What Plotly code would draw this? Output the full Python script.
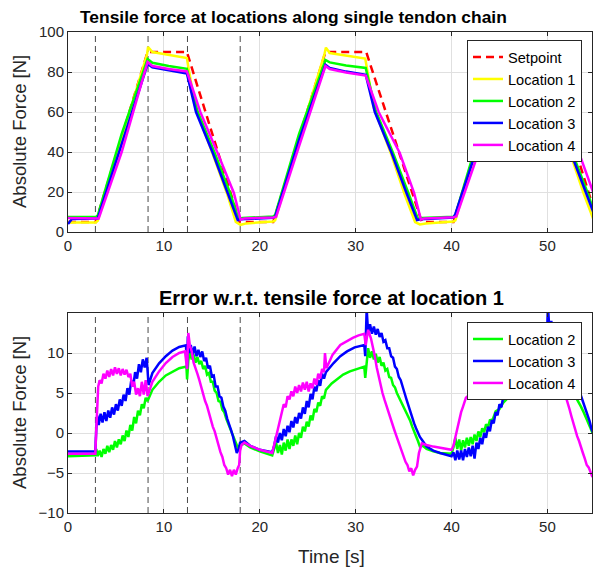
import plotly.graph_objects as go

FONT = "Liberation Sans, Arial, Helvetica, sans-serif"
AX = "#262626"
GRID = "#e0e0e0"

# ---------------- data ----------------
event_times = [2.86, 8.35, 12.46, 17.96]

setpoint_t = [0, 2.9, 8.3, 12.4, 17.9, 21.4, 26.85, 31.1, 36.9, 40.2, 45.6, 49.75, 55.25]
setpoint_f = [5, 5, 90, 90, 5, 5, 90, 90, 5, 5, 90, 90, 5]

loc1_pts = [(0, 4.8), (2.9, 4.8), (3.1, 5.6), (5.6, 47), (8.25, 89), (8.35, 92.5), (8.8, 90), (10.5, 88.6),
            (12.4, 87), (12.5, 84), (13.3, 62), (15.1, 39), (16.6, 19), (17.5, 5), (18.0, 3.6), (18.6, 4.3),
            (21.4, 5.3), (21.6, 5.8), (24.1, 47), (26.75, 89), (26.9, 92.2), (27.3, 89.5), (29.0, 88.2),
            (31.0, 86.7), (31.1, 84), (31.9, 62), (33.7, 39), (35.1, 19), (36.2, 5), (36.7, 3.8), (37.3, 4.3),
            (40.2, 5.2), (40.4, 5.8), (42.9, 47), (45.55, 89), (45.7, 92.2), (46.1, 89.5), (47.8, 88.2),
            (49.7, 86.7), (49.8, 84), (50.6, 62), (52.4, 39), (53.8, 19), (54.9, 5)]

loc2_pts = [(0, 7.5), (2.9, 7.5), (3.1, 8.2), (5.6, 49), (8.3, 86.5), (8.8, 84.6), (10.5, 83), (12.4, 81.6),
            (13.5, 60.5), (15.3, 39.5), (16.9, 19.5), (17.8, 6.5), (18.2, 7.0), (21.4, 7.8),
            (21.6, 8.5), (24.1, 49), (26.85, 86), (27.3, 84.8), (29.0, 83.2), (31.05, 82), (32.1, 60.5),
            (33.9, 39.5), (35.5, 19.5), (36.5, 6.5), (36.9, 7.0), (40.2, 7.6),
            (40.4, 8.4), (42.9, 49), (45.6, 86), (46.1, 84.8), (47.8, 83.2), (49.75, 82), (50.8, 60.5),
            (52.6, 39.5), (54.2, 19.5), (55.1, 6.5)]

loc3_pts = [(0, 4.0), (0.4, 6.5), (2.9, 6.8), (3.1, 6.8), (5.6, 44), (8.3, 84), (8.8, 82.3), (10.5, 80.8),
            (12.4, 79.3), (13.35, 60), (15.1, 39.5), (16.65, 19.5), (17.7, 6), (18.1, 6.4), (21.4, 7.1),
            (21.6, 7.6), (24.1, 46), (26.85, 83.6), (27.3, 82), (29.0, 80.2), (31.05, 78.6), (32.0, 60),
            (33.75, 39.5), (35.3, 19.5), (36.4, 6), (36.8, 6.4), (40.2, 7.2),
            (40.4, 9), (42.6, 40.5), (45.6, 84.5), (46.1, 82.5), (47.8, 80.5), (49.75, 78.8), (50.7, 60),
            (52.45, 39.5), (54.0, 19.5), (55.1, 6)]

loc4_pts = [(0, 7.0), (2.9, 7.0), (3.2, 6.8), (5.6, 40), (8.3, 85), (8.8, 83), (10.5, 81.5), (12.4, 80.3),
            (13.8, 60), (15.6, 39.5), (17.3, 19.5), (18.0, 6.2), (18.4, 6.8), (21.4, 7.3),
            (21.7, 7.6), (24.1, 43), (26.85, 83), (27.3, 81.5), (29.0, 79.8), (31.05, 78.2), (32.4, 60),
            (34.6, 39.5), (36.1, 19.5), (36.8, 6.3), (37.2, 6.8), (40.2, 7.4),
            (40.5, 7.8), (42.9, 41), (45.6, 82.5), (46.1, 81), (47.8, 79.5), (49.75, 78), (51.1, 60),
            (53.3, 39.5), (54.8, 19.5)]

err2_pts = [(0.0, -2.9), (2.85, -2.8), (2.95, -2.0), (3.1, -2.9), (3.3, -2.2), (3.5, -3.0), (3.7, -2.0), (3.9, -2.6),
            (4.1, -1.6), (4.3, -2.4), (4.5, -1.5), (4.7, -2.1), (4.9, -1.0), (5.1, -1.8), (5.3, -0.8), (5.5, -1.4),
            (5.7, -0.3), (5.9, -1.0), (6.1, 0.3), (6.3, -0.5), (6.5, 1.0), (6.7, 0.3), (6.9, 2.0), (7.1, 1.2),
            (7.3, 2.8), (7.5, 2.2), (7.7, 3.6), (7.9, 3.1), (8.1, 4.4), (8.3, 4.0),
            (8.8, 5.4), (9.5, 6.4), (10.2, 7.2), (10.9, 7.7), (11.6, 8.1), (12.35, 8.3), (12.42, 6.7),
            (12.55, 9.0), (12.7, 10.4), (12.9, 9.2), (13.1, 9.8), (13.3, 8.8), (13.5, 9.5), (13.7, 8.6),
            (13.9, 9.0), (14.1, 8.0), (14.3, 8.4), (14.5, 7.3), (14.7, 7.5), (14.9, 6.4), (15.1, 6.4),
            (15.3, 5.3), (15.5, 5.0), (15.7, 4.0), (15.9, 3.9), (16.1, 2.9), (16.3, 2.6), (16.5, 1.8),
            (16.7, 1.2), (16.9, 0.5), (17.1, -0.1), (17.3, -0.7), (17.5, -1.2), (17.7, -1.8), (17.9, -1.6),
            (18.4, -1.3), (19.0, -1.8), (20.0, -2.3), (21.3, -2.8),
            (21.5, -2.0), (21.7, -1.2), (21.9, -2.5), (22.1, -1.5), (22.3, -2.7), (22.5, -1.2), (22.7, -2.2),
            (22.9, -0.8), (23.1, -2.0), (23.3, -0.8), (23.5, -1.6), (23.7, -0.3), (23.9, -1.4), (24.1, 0.0),
            (24.3, -0.6), (24.5, 0.8), (24.7, 0.2), (24.9, 1.4), (25.1, 0.8), (25.3, 2.2), (25.5, 1.6),
            (25.7, 3.0), (25.9, 2.6), (26.1, 3.8), (26.3, 3.4), (26.5, 4.6), (26.7, 4.3), (26.9, 5.4),
            (27.5, 6.2), (28.0, 6.7), (28.7, 7.3), (29.4, 7.7), (30.1, 8.0), (30.9, 8.3), (31.0, 6.9),
            (31.15, 9.2), (31.3, 10.6), (31.5, 9.4), (31.7, 10.2), (31.9, 9.2), (32.1, 9.9), (32.3, 8.8),
            (32.5, 9.5), (32.7, 8.4), (32.9, 8.8), (33.1, 7.8), (33.3, 8.0), (33.5, 7.0), (33.7, 6.9),
            (33.9, 6.0), (34.1, 5.7), (34.3, 5.0), (34.5, 4.5), (34.7, 4.0), (34.9, 3.6), (35.1, 3.1),
            (35.3, 2.7), (35.5, 2.0), (35.7, 1.5), (35.9, 0.8), (36.1, 0.3), (36.3, -0.4), (36.5, -1.0),
            (36.7, -1.7), (37.0, -1.6), (37.4, -2.0), (38.1, -2.3), (38.8, -2.5), (40.0, -2.6),
            (40.2, -1.8), (40.4, -0.6), (40.6, -2.0), (40.8, -0.8), (41.0, -2.2), (41.2, -0.9), (41.4, -1.8),
            (41.6, -0.6), (41.8, -1.6), (42.0, -0.5), (42.2, -1.4), (42.4, -0.2), (42.6, -1.0), (42.8, 0.2),
            (43.0, -0.5), (43.2, 0.6), (43.4, 0.1), (43.6, 1.1), (43.8, 0.7), (44.0, 1.6), (44.3, 1.7),
            (44.6, 2.7), (45.0, 3.0), (45.4, 3.8), (45.8, 4.3), (46.4, 5.3), (47.2, 6.2), (48.0, 7.2),
            (49.0, 7.9), (49.8, 8.2), (49.9, 7.0), (50.15, 9.3), (50.3, 10.5), (50.5, 9.4), (50.7, 10.0),
            (50.9, 9.0), (51.1, 9.5), (51.3, 8.4), (51.5, 8.6), (51.7, 7.6), (51.9, 7.4), (52.1, 6.5),
            (52.3, 6.3), (52.5, 5.5), (52.7, 5.2), (52.9, 4.6), (53.1, 4.2), (53.3, 3.7), (53.5, 3.3),
            (53.7, 2.8), (53.9, 2.3), (54.1, 1.8), (54.3, 1.2), (54.5, 0.6), (54.7, 0.0)]

err3_pts = [(0, -2.3), (2.85, -2.3), (2.95, 0.5), (3.05, 2.2), (3.2, 1.0), (3.4, 2.4), (3.6, 1.3), (3.8, 2.6),
            (4.0, 1.5), (4.2, 2.8), (4.4, 1.9), (4.6, 3.2), (4.8, 2.3), (5.0, 3.6), (5.2, 2.8), (5.4, 4.2),
            (5.6, 3.4), (5.8, 4.8), (6.0, 4.0), (6.2, 5.6), (6.4, 4.8), (6.6, 6.6), (6.8, 5.8), (7.0, 7.6),
            (7.2, 6.8), (7.4, 8.6), (7.6, 7.6), (7.8, 9.2), (8.0, 8.2), (8.2, 9.4), (8.3, 7.8), (8.4, 6.0),
            (8.8, 7.5), (9.5, 8.7), (10.2, 9.6), (10.9, 10.3), (11.6, 10.75), (12.3, 10.95), (12.42, 8.2),
            (12.5, 12.1), (12.65, 10.0), (12.8, 11.0), (13.0, 9.8), (13.2, 10.8), (13.4, 9.6), (13.6, 10.4),
            (13.8, 9.5), (14.0, 10.2), (14.2, 9.0), (14.4, 9.4), (14.6, 8.1), (14.8, 8.4), (15.0, 7.1),
            (15.2, 7.2), (15.4, 5.8), (15.6, 5.8), (15.8, 4.6), (16.0, 4.4), (16.2, 3.3), (16.4, 2.8),
            (16.6, 1.8), (16.8, 1.2), (17.0, 0.4), (17.2, -0.4), (17.4, -1.4), (17.6, -2.5), (17.8, -2.0),
            (17.95, -1.2), (18.4, -1.0), (19.0, -1.6), (20.0, -2.1), (21.3, -2.4),
            (21.5, -1.6), (21.7, -0.4), (21.9, -1.2), (22.1, 0.0), (22.3, -0.9), (22.5, 0.5), (22.7, -0.4),
            (22.9, 0.9), (23.1, 0.1), (23.3, 1.5), (23.5, 0.7), (23.7, 2.0), (23.9, 1.2), (24.1, 2.5),
            (24.3, 1.8), (24.5, 3.2), (24.7, 2.4), (24.9, 4.0), (25.1, 3.2), (25.3, 4.9), (25.5, 4.2),
            (25.7, 5.8), (25.9, 5.2), (26.1, 6.6), (26.3, 5.9), (26.5, 7.4), (26.7, 6.8), (26.9, 7.6),
            (27.7, 8.75), (28.4, 9.6), (29.1, 10.2), (29.9, 10.7), (30.9, 11.0), (31.0, 9.6), (31.15, 15.5),
            (31.3, 12.5), (31.5, 13.6), (31.7, 12.4), (31.9, 13.3), (32.1, 12.3), (32.3, 13.0), (32.5, 12.0),
            (32.7, 12.5), (32.9, 11.4), (33.1, 11.6), (33.3, 10.6), (33.5, 10.6), (33.7, 9.6), (33.9, 9.4),
            (34.1, 8.3), (34.3, 8.0), (34.5, 7.0), (34.7, 6.6), (34.9, 5.6), (35.1, 5.0), (35.3, 4.2),
            (35.5, 3.4), (35.7, 2.6), (35.9, 1.9), (36.1, 1.2), (36.3, 0.6), (36.5, 0.0), (36.7, -0.5),
            (37.0, -1.0), (37.4, -1.7), (38.1, -2.2), (38.8, -2.5), (40.0, -2.9),
            (40.2, -2.4), (40.4, -3.4), (40.6, -2.2), (40.8, -3.3), (41.0, -2.2), (41.2, -3.4), (41.4, -2.0),
            (41.6, -3.0), (41.8, -1.8), (42.0, -2.9), (42.2, -1.6), (42.4, -3.2), (42.6, -1.2), (42.8, -2.0),
            (43.0, -0.6), (43.2, -1.4), (43.4, 0.0), (43.6, -0.6), (43.8, 0.8), (44.0, 0.2), (44.2, 1.6),
            (44.4, 1.2), (44.6, 2.6), (44.8, 2.2), (45.0, 3.6), (45.2, 3.2), (45.4, 4.6), (45.6, 4.4),
            (45.8, 5.6), (46.3, 6.8), (47.0, 8.0), (47.8, 9.1), (48.6, 9.9), (49.3, 10.5), (49.8, 10.8),
            (49.9, 9.5), (50.05, 16.0), (50.2, 13.0), (50.4, 14.0), (50.6, 12.8), (50.8, 13.5), (51.0, 12.3),
            (51.2, 12.8), (51.4, 11.6), (51.6, 11.6), (51.8, 10.4), (52.0, 10.2), (52.2, 9.0), (52.4, 8.6),
            (52.6, 7.5), (52.8, 7.0), (53.0, 6.2), (53.2, 5.6), (53.4, 5.0), (53.6, 4.3), (53.8, 3.6),
            (54.0, 3.0), (54.2, 2.2), (54.4, 1.5), (54.6, 0.5), (54.8, 0.0)]

err4_pts = [(0, -2.6), (2.85, -2.6), (2.95, 0.5), (3.05, 4.5), (3.15, 5.8), (3.3, 6.6), (3.5, 6.2), (3.7, 7.4),
            (3.9, 6.8), (4.1, 7.8), (4.3, 7.0), (4.5, 8.0), (4.7, 7.2), (4.9, 8.2), (5.1, 7.4), (5.3, 8.1),
            (5.5, 7.2), (5.7, 8.0), (5.9, 7.3), (6.1, 7.9), (6.3, 7.0), (6.5, 7.4), (6.7, 5.8), (6.9, 6.4),
            (7.1, 4.8), (7.3, 5.6), (7.5, 4.6), (7.7, 6.4), (7.9, 4.8), (8.1, 6.6), (8.3, 4.6),
            (8.8, 6.4), (9.5, 7.7), (10.2, 8.75), (10.9, 9.5), (11.6, 10.0), (12.2, 10.2), (12.42, 8.0),
            (12.55, 12.5), (12.7, 11.0), (12.9, 10.2), (13.1, 8.8), (13.3, 8.2), (13.5, 7.4), (13.7, 6.6),
            (13.9, 5.6), (14.1, 5.0), (14.3, 4.0), (14.5, 3.4), (14.7, 2.4), (14.9, 1.8), (15.1, 0.8),
            (15.3, 0.2), (15.5, -0.8), (15.7, -1.4), (15.9, -2.4), (16.1, -3.0), (16.3, -4.0), (16.5, -4.4),
            (16.7, -5.2), (16.9, -4.6), (17.1, -5.4), (17.3, -4.6), (17.5, -5.2), (17.7, -4.4), (17.85, -4.0),
            (17.95, -2.2), (18.1, -1.5), (18.4, -1.2), (19.0, -1.6), (20.0, -2.1), (21.3, -2.5),
            (21.5, -1.5), (21.8, 0.0), (22.1, 1.6), (22.3, 2.4), (22.5, 3.6), (22.7, 3.2), (22.9, 4.6),
            (23.1, 4.2), (23.3, 5.2), (23.5, 4.6), (23.7, 5.8), (23.9, 5.0), (24.1, 6.0), (24.3, 5.2),
            (24.5, 6.3), (24.7, 5.4), (24.9, 6.4), (25.1, 5.2), (25.3, 6.2), (25.5, 5.6), (25.7, 6.8),
            (25.9, 6.0), (26.1, 7.4), (26.3, 6.8), (26.5, 8.0), (26.7, 7.6), (26.8, 10.0), (26.95, 8.1),
            (27.6, 9.8), (28.4, 11.0), (29.1, 11.5), (29.7, 11.9), (30.3, 12.2), (30.9, 12.4), (31.05, 11.0),
            (31.3, 12.9), (31.6, 11.8), (31.8, 10.8), (32.0, 9.6), (32.2, 8.2), (32.4, 7.0), (32.6, 5.8),
            (32.8, 5.0), (33.0, 4.2), (33.2, 3.4), (33.4, 2.6), (33.6, 1.8), (33.8, 1.2), (34.0, 0.5),
            (34.2, -0.2), (34.4, -0.9), (34.6, -1.6), (34.8, -2.3), (35.0, -2.9), (35.2, -3.6), (35.4, -4.0),
            (35.6, -4.8), (35.8, -4.4), (36.0, -5.3), (36.2, -4.6), (36.4, -4.2), (36.6, -2.5), (36.9, -1.3),
            (37.4, -1.5), (38.1, -1.7), (40.0, -2.1),
            (40.2, -1.6), (40.5, 0.0), (40.8, 1.8), (41.0, 2.6), (41.2, 3.3), (41.5, 4.4), (41.7, 4.6),
            (41.9, 5.4), (42.2, 6.1), (42.6, 6.4), (43.0, 6.2), (43.6, 6.6), (44.3, 6.0), (45.0, 6.8),
            (45.6, 7.8), (46.3, 9.5), (47.2, 10.8), (48.2, 11.6), (49.3, 12.2), (49.8, 12.4), (50.0, 11.0),
            (50.2, 13.0), (50.5, 11.8), (50.8, 10.2), (51.1, 8.4), (51.4, 6.8), (51.7, 5.6), (51.9, 4.6),
            (52.1, 3.9), (52.3, 3.0), (52.5, 2.1), (52.7, 1.2), (52.9, 0.6), (53.1, -0.4), (53.3, -1.0),
            (53.5, -1.9), (53.7, -2.5), (53.9, -3.2), (54.1, -4.0), (54.3, -4.3), (54.5, -5.0), (54.7, -5.5)]

top_yticks = [0, 20, 40, 60, 80, 100]
bot_yticks = [-10, -5, 0, 5, 10]
xticks = [0, 10, 20, 30, 40, 50]

COL = {"set": "#FF0000", "l1": "#FFFF00", "l2": "#00FF00", "l3": "#0000FF", "l4": "#FF00FF"}
LW = 2.5


def split(pts):
    return [p[0] for p in pts], [p[1] for p in pts]


fig = go.Figure()

fig.add_trace(go.Scatter(x=setpoint_t, y=setpoint_f, mode="lines", name="Setpoint",
                         line=dict(color=COL["set"], width=LW, dash="8px,5px"),
                         xaxis="x", yaxis="y", legend="legend"))
for pts, key, nm in [(loc1_pts, "l1", "Location 1"), (loc2_pts, "l2", "Location 2"),
                     (loc3_pts, "l3", "Location 3"), (loc4_pts, "l4", "Location 4")]:
    t, f = split(pts)
    fig.add_trace(go.Scatter(x=t, y=f, mode="lines", name=nm, line=dict(color=COL[key], width=LW),
                             xaxis="x", yaxis="y", legend="legend"))

for pts, key, nm in [(err2_pts, "l2", "Location 2"), (err3_pts, "l3", "Location 3"),
                     (err4_pts, "l4", "Location 4")]:
    t, f = split(pts)
    fig.add_trace(go.Scatter(x=t, y=f, mode="lines", name=nm, line=dict(color=COL[key], width=LW),
                             xaxis="x2", yaxis="y2", legend="legend2"))

shapes = []
for et in event_times:
    for yr, xr in [("y domain", "x"), ("y2 domain", "x2")]:
        shapes.append(dict(type="line", xref=xr, yref=yr, x0=et, x1=et, y0=0, y1=1,
                           line=dict(color="#4a4a4a", width=1, dash="6px,4px"), layer="below"))

axis_common = dict(showline=True, linecolor=AX, linewidth=1, mirror="ticks", ticks="inside",
                   ticklen=4, tickcolor=AX, showgrid=True, gridcolor=GRID, gridwidth=1, zeroline=False,
                   tickfont=dict(family=FONT, size=15, color=AX))

W, H = 593, 568
ML, MR, MT, MB = 68, 1, 32, 55
PH = H - MT - MB
PW = W - ML - MR


def px_to_paper_y(py):
    return 1 - (py - MT) / PH


def px_to_paper_x(px):
    return (px - ML) / PW


LEG_FONT = dict(family=FONT, size=14.6, color="black")

fig.update_layout(
    width=W, height=H,
    margin=dict(l=ML, r=MR, t=MT, b=MB),
    paper_bgcolor="white", plot_bgcolor="white",
    font=dict(family=FONT, color=AX),
    showlegend=True,
    xaxis=dict(domain=[0, 1], range=[0, 54.65], tickvals=xticks, anchor="y", **axis_common),
    yaxis=dict(domain=[1 - 200 / PH, 1], range=[0, 100], tickvals=top_yticks, anchor="x", **axis_common),
    xaxis2=dict(domain=[0, 1], range=[0, 54.65], tickvals=xticks, anchor="y2", **axis_common),
    yaxis2=dict(domain=[0, 200 / PH], range=[-10, 15], tickvals=bot_yticks, anchor="x2", **axis_common),
    legend=dict(x=px_to_paper_x(467), y=px_to_paper_y(40), xanchor="left", yanchor="top",
                bordercolor=AX, borderwidth=1, bgcolor="white", font=LEG_FONT),
    legend2=dict(x=px_to_paper_x(467), y=px_to_paper_y(322), xanchor="left", yanchor="top",
                 bordercolor=AX, borderwidth=1, bgcolor="white", font=LEG_FONT),
    shapes=shapes,
    annotations=[
        dict(text="<b>Tensile force at locations along single tendon chain</b>", xref="paper", yref="paper",
             x=px_to_paper_x(293), y=px_to_paper_y(17), xanchor="center", yanchor="middle", showarrow=False,
             font=dict(family=FONT, size=17.4, color="black")),
        dict(text="<b>Error w.r.t. tensile force at location 1</b>", xref="paper", yref="paper",
             x=px_to_paper_x(331), y=px_to_paper_y(298), xanchor="center", yanchor="middle", showarrow=False,
             font=dict(family=FONT, size=20, color="black")),
        dict(text="Absolute Force [N]", xref="paper", yref="paper", textangle=-90,
             x=px_to_paper_x(19), y=px_to_paper_y(132), xanchor="center", yanchor="middle", showarrow=False,
             font=dict(family=FONT, size=18.5, color=AX)),
        dict(text="Absolute Force [N]", xref="paper", yref="paper", textangle=-90,
             x=px_to_paper_x(19), y=px_to_paper_y(413), xanchor="center", yanchor="middle", showarrow=False,
             font=dict(family=FONT, size=18.5, color=AX)),
        dict(text="Time [s]", xref="paper", yref="paper",
             x=px_to_paper_x(331), y=px_to_paper_y(556), xanchor="center", yanchor="middle", showarrow=False,
             font=dict(family=FONT, size=19, color=AX)),
    ],
)

fig.write_html("out.html", config={"displayModeBar": False},
               post_script="document.body.style.margin='0';document.body.style.overflow='hidden';")
